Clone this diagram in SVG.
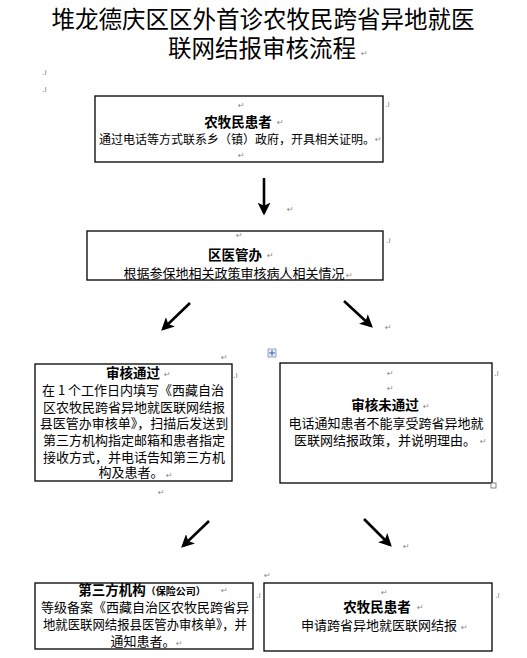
<svg xmlns="http://www.w3.org/2000/svg" width="527" height="658" viewBox="0 0 527 658">
<style>
text{font-family:"Noto Sans CJK SC","Liberation Sans",sans-serif;fill:#000}
.t{font-size:23.5px;text-anchor:middle}
.h{font-size:13.5px;font-weight:bold;text-anchor:middle}
.b{font-size:13px;text-anchor:middle}
.pm{font-family:"DejaVu Sans",sans-serif;font-size:8px;fill:#888}
.box{fill:#fff;stroke:#000;stroke-width:1.3}
.arr{stroke:#000;stroke-width:2.6;fill:none;marker-end:url(#ah)}
</style>
<defs>
<marker id="ah" markerWidth="5" markerHeight="5" refX="4" refY="2.5" orient="auto" markerUnits="strokeWidth">
<path d="M0,0 L5,2.5 L0,5 L1.2,2.5 z" fill="#000"/>
</marker>
</defs>
<rect width="527" height="658" fill="#fff"/>
<g id="title">
<text class="t" x="263" y="28">堆龙德庆区区外首诊农牧民跨省异地就医</text>
<text class="t" x="262" y="57">联网结报审核流程</text>
</g>
<g id="connectors">
<line class="arr" x1="264" y1="178" x2="264" y2="213"/>
<line class="arr" x1="190" y1="303" x2="163" y2="329"/>
<line class="arr" x1="344" y1="301" x2="371" y2="326"/>
<line class="arr" x1="209" y1="521" x2="183" y2="546"/>
<line class="arr" x1="364" y1="519" x2="390" y2="545"/>
</g>
<g id="node-farmer1">
<rect class="box" x="95" y="96" width="288" height="66"/>
<text class="h" x="238" y="127">农牧民患者</text>
<text class="b" x="237" y="144" style="font-size:12px">通过电话等方式联系乡（镇）政府，开具相关证明。</text>
</g>
<g id="node-office">
<rect class="box" x="87" y="231" width="296" height="49"/>
<text class="h" x="235" y="260">区医管办</text>
<text class="b" x="234" y="278">根据参保地相关政策审核病人相关情况</text>
</g>
<g id="node-pass">
<rect class="box" x="35" y="364" width="197" height="117"/>
<text class="h" x="133" y="378">审核通过</text>
<text class="b" x="133" y="395">在 1 个工作日内填写《西藏自治</text>
<text class="b" x="134" y="412">区农牧民跨省异地就医联网结报</text>
<text class="b" x="134" y="428">县医管办审核单》，扫描后发送到</text>
<text class="b" x="134" y="445">第三方机构指定邮箱和患者指定</text>
<text class="b" x="134" y="462">接收方式，并电话告知第三方机</text>
<text class="b" x="131" y="477">构及患者。</text>
</g>
<g id="node-fail">
<rect class="box" x="280" y="363" width="212" height="120"/>
<text class="h" x="385" y="410">审核未通过</text>
<text class="b" x="386" y="428">电话通知患者不能享受跨省异地就</text>
<text class="b" x="385" y="445">医联网结报政策，并说明理由。</text>
</g>
<g id="node-third">
<rect class="box" x="35" y="583" width="218" height="66"/>
<text x="142" y="595" style="font-size:13.5px;font-weight:bold;text-anchor:middle">第三方机构<tspan style="font-size:10px">（保险公司）</tspan></text>
<text class="b" x="145" y="612">等级备案《西藏自治区农牧民跨省异</text>
<text class="b" x="145" y="629" textLength="204" lengthAdjust="spacingAndGlyphs">地就医联网结报县医管办审核单》，并</text>
<text class="b" x="143" y="646">通知患者。</text>
</g>
<g id="node-farmer2">
<rect class="box" x="264" y="583" width="228" height="68"/>
<text class="h" x="377" y="612">农牧民患者</text>
<text class="b" x="379" y="630">申请跨省异地就医联网结报</text>
</g>
<g id="handles">
<rect x="268" y="349" width="8" height="8" fill="#e8eef8" stroke="#7a8fb8" stroke-width="0.8"/>
<path d="M272,350 V356 M269,353 H275" stroke="#3a5ea8" stroke-width="1"/>
<rect x="491" y="483" width="5" height="5" fill="#fff" stroke="#666" stroke-width="0.8"/>
</g>
<g id="marks">
<text class="pm" x="361" y="56">↵</text>
<text class="pm" x="42" y="75">.ı</text>
<text class="pm" x="42" y="92">.ı</text>
<text class="pm" x="238" y="108">↵</text>
<text class="pm" x="277" y="125">↵</text>
<text class="pm" x="375" y="142">↵</text>
<text class="pm" x="238" y="158">↵</text>
<text class="pm" x="385" y="107">.ı</text>
<text class="pm" x="287" y="212">↵</text>
<text class="pm" x="236" y="238">↵</text>
<text class="pm" x="267" y="258">↵</text>
<text class="pm" x="346" y="278">↵</text>
<text class="pm" x="386" y="243">.ı</text>
<text class="pm" x="385" y="330">↵</text>
<text class="pm" x="221" y="360">↵</text>
<text class="pm" x="164" y="377">↵</text>
<text class="pm" x="166" y="478">↵</text>
<text class="pm" x="233" y="378">.ı</text>
<text class="pm" x="158" y="495">↵</text>
<text class="pm" x="387" y="376">↵</text>
<text class="pm" x="387" y="391">↵</text>
<text class="pm" x="423" y="409">↵</text>
<text class="pm" x="480" y="444">↵</text>
<text class="pm" x="494" y="376">.ı</text>
<text class="pm" x="403" y="549">↵</text>
<text class="pm" x="264" y="578">↵</text>
<text class="pm" x="221" y="593">↵</text>
<text class="pm" x="176" y="646">↵</text>
<text class="pm" x="256" y="598">.ı</text>
<text class="pm" x="381" y="595">↵</text>
<text class="pm" x="417" y="610">↵</text>
<text class="pm" x="461" y="630">↵</text>
<text class="pm" x="495" y="598">.ı</text>
</g>
</svg>
